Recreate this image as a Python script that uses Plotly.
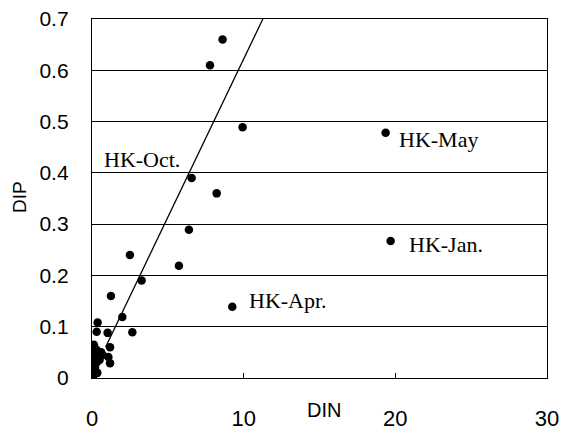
import plotly.graph_objects as go

# Data
din = [8.61, 7.78, 9.93, 19.36, 8.22, 6.57, 19.69, 9.25, 6.39, 5.73, 2.50, 3.27, 1.25,
       2.00, 2.66, 0.37, 0.31, 1.03, 1.19, 1.08, 1.19,
       0.05, 0.10, 0.08, 0.15, 0.05, 0.20, 0.10, 0.30, 0.15, 0.05, 0.25, 0.10, 0.20,
       0.05, 0.30, 0.15, 0.60, 0.50, 0.70, 0.02, 0.12, 0.35]
dip = [0.660, 0.610, 0.489, 0.478, 0.360, 0.390, 0.267, 0.139, 0.289, 0.219, 0.240, 0.190, 0.160,
       0.119, 0.089, 0.108, 0.090, 0.088, 0.060, 0.041, 0.029,
       0.000, 0.005, 0.010, 0.015, 0.020, 0.020, 0.025, 0.030, 0.035, 0.040, 0.040, 0.045, 0.050,
       0.055, 0.055, 0.060, 0.050, 0.035, 0.045, 0.030, 0.065, 0.010]

# Regression line (HK-Oct.)
fit_intercept = 0.005
fit_slope = 0.0617
fit_x = [0.9, 11.27]
fit_y = [fit_intercept + fit_slope * v for v in fit_x]

labels = ["HK-Oct.", "HK-May", "HK-Jan.", "HK-Apr."]
label_x = [0.66, 20.1, 20.8, 10.2]
label_y = [0.427, 0.465, 0.260, 0.152]

x_ticks = [0, 10, 20, 30]
y_ticks = [0, 0.1, 0.2, 0.3, 0.4, 0.5, 0.6, 0.7]
y_tick_text = ["0", "0.1", "0.2", "0.3", "0.4", "0.5", "0.6", "0.7"]

fig = go.Figure()
fig.add_trace(go.Scatter(x=fit_x, y=fit_y, mode="lines",
                         line=dict(color="black", width=1.3), showlegend=False))
fig.add_trace(go.Scatter(x=din, y=dip, mode="markers",
                         marker=dict(color="black", size=8.5), showlegend=False))

for t, lx, ly in zip(labels, label_x, label_y):
    fig.add_annotation(x=lx, y=ly, text=t, showarrow=False, xanchor="left", yanchor="middle",
                       font=dict(family="Liberation Serif", size=22, color="black"))

fig.add_annotation(xref="paper", yref="paper", x=(324 - 92) / 455, y=(378 - 410) / 359,
                   text="DIN", showarrow=False, xanchor="center", yanchor="middle",
                   font=dict(family="Liberation Sans", size=20, color="black"))
fig.add_annotation(xref="paper", yref="paper", x=(20 - 92) / 455, y=(378 - 197) / 359,
                   text="DIP", showarrow=False, xanchor="center", yanchor="middle", textangle=-90,
                   font=dict(family="Liberation Sans", size=19, color="black"))

fig.update_layout(
    width=564, height=437,
    margin=dict(l=92, r=17, t=19, b=59),
    paper_bgcolor="white", plot_bgcolor="white",
    font=dict(family="Liberation Sans", color="black"),
)
fig.update_xaxes(range=[0, 30], tickvals=x_ticks, showgrid=False, zeroline=False,
                 showline=True, linecolor="black", linewidth=1.3, mirror=True,
                 ticks="inside", ticklen=5, tickcolor="black", automargin=False,
                 tickfont=dict(size=22, family="Liberation Sans"), ticklabelstandoff=20)
fig.update_yaxes(range=[0, 0.7], tickvals=y_ticks, ticktext=y_tick_text,
                 showgrid=True, gridcolor="black", gridwidth=1, zeroline=False,
                 showline=True, linecolor="black", linewidth=1.3, mirror=True,
                 ticks="inside", ticklen=5, tickcolor="black", automargin=False,
                 tickfont=dict(size=21, family="Liberation Sans"),
                 ticklabelstandoff=18)

fig.write_html("out.html")
